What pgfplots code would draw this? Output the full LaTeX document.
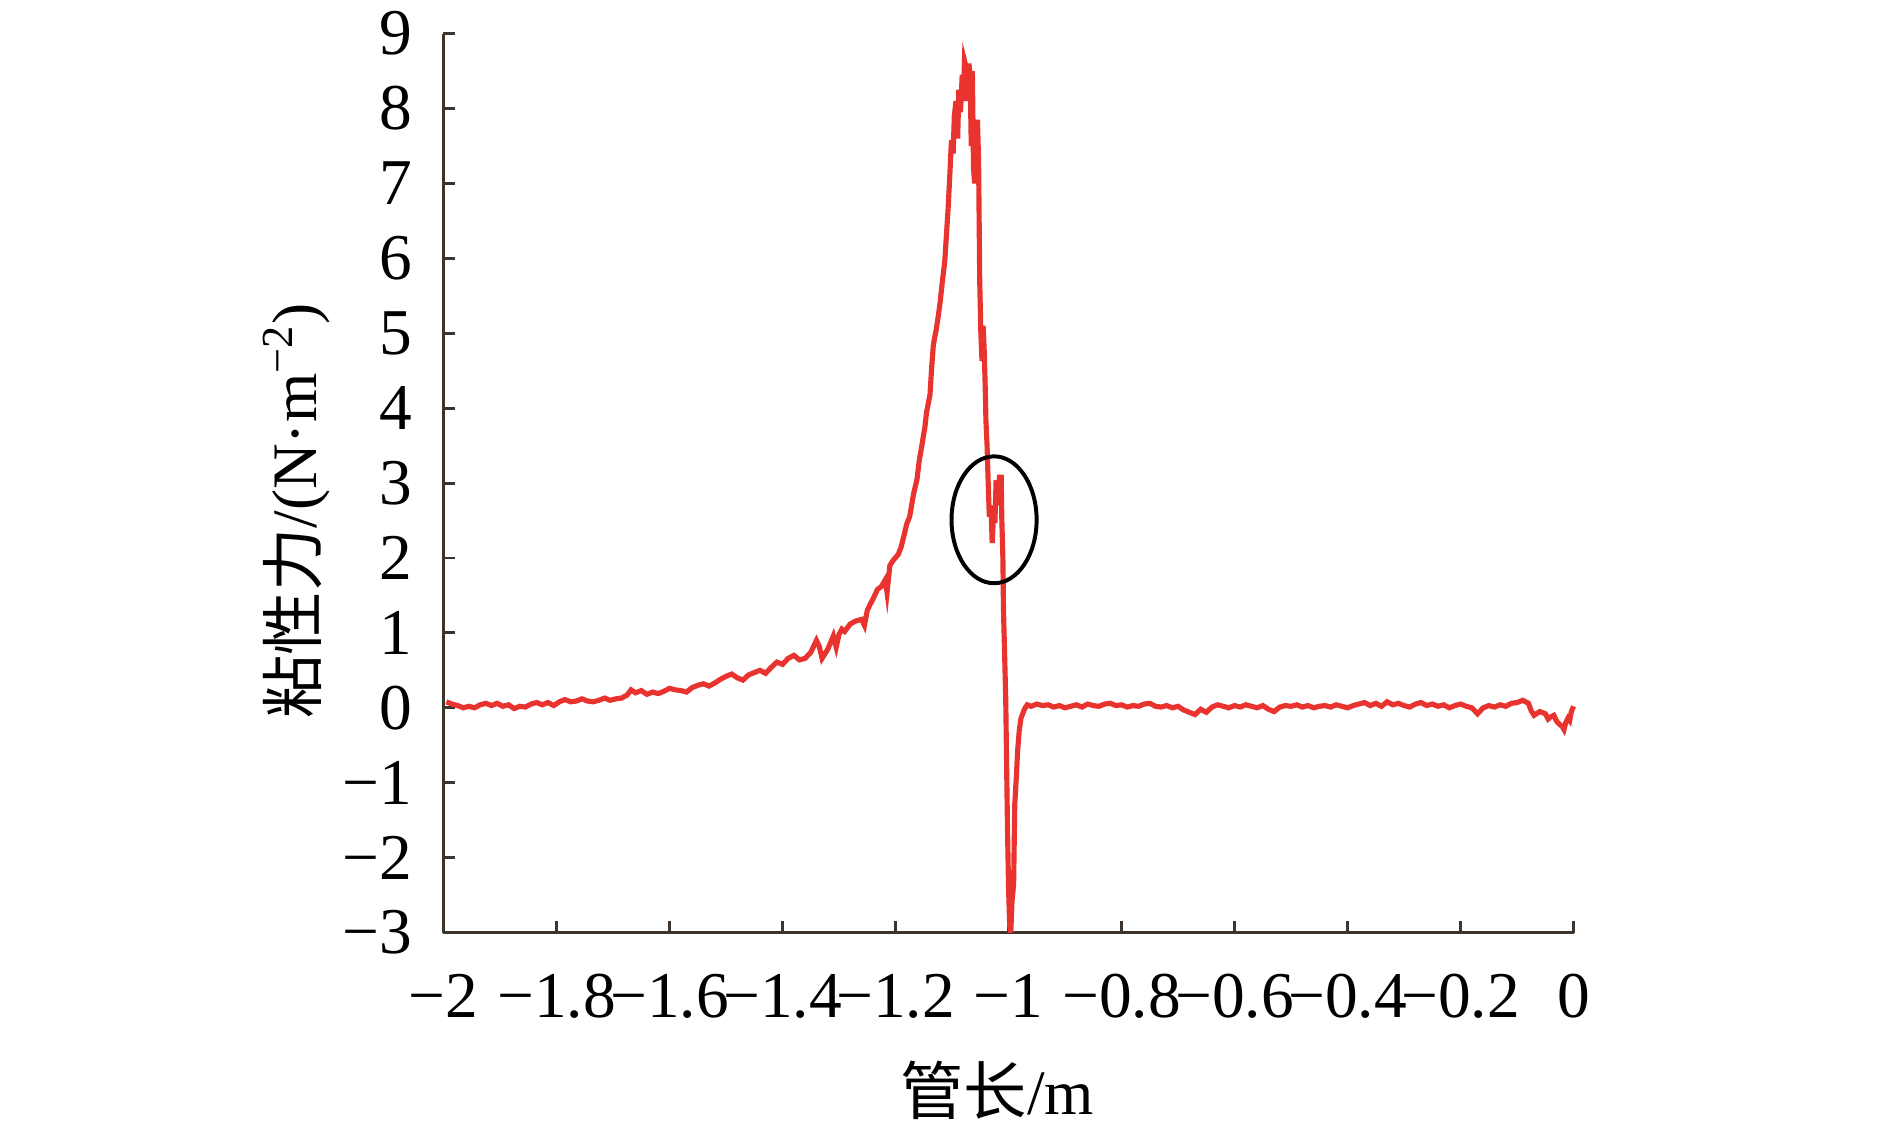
\documentclass[border=0pt]{standalone}
\usepackage{pgfplots}
\pgfplotsset{compat=1.18}
\usepackage{fontspec}
\setmainfont{Liberation Serif}
\newfontfamily\cjk{Noto Sans CJK SC}
\definecolor{axiscol}{RGB}{62,52,46}
\definecolor{curvered}{RGB}{232,51,47}

\begin{document}
\begin{tikzpicture}
\begin{axis}[name=ax, scale only axis, width=285.4pt, height=227pt,
  xmin=-2, xmax=0, ymin=-3, ymax=9,
  axis lines*=left,
  axis line style={draw=axiscol, line width=0.75pt},
  tick style={draw=axiscol, line width=0.75pt},
  tick align=inside, major tick length=3pt,
  xtick={-2,-1.8,-1.6,-1.4,-1.2,-1,-0.8,-0.6,-0.4,-0.2,0},
  xticklabels={−2,−1.8,−1.6,−1.4,−1.2,−1,−0.8,−0.6,−0.4,−0.2,0},
  ytick={-3,-2,-1,0,1,2,3,4,5,6,7,8,9},
  yticklabels={−3,−2,−1,0,1,2,3,4,5,6,7,8,9},
  ticklabel style={font=\fontsize{16.5}{19}\selectfont, text=black},
  xticklabel style={yshift=-7pt},
  yticklabel style={xshift=-4.5pt},
  xlabel={{\cjk 管长}/m},
  ylabel={{\cjk 粘性力}/(N·m\textsuperscript{−2})},
  label style={font=\fontsize{16}{19}\selectfont},
  xlabel style={at={(axis description cs:0.49,-0.176)}, anchor=center},
  ylabel style={at={(axis description cs:-0.13,0.469)}, anchor=center},
  clip=false]
\addplot[curvered, line width=1.3pt] coordinates {
(-1.995,0.08) (-1.985,0.05) (-1.975,0.03) (-1.965,0.0) (-1.955,0.02) (-1.945,0.0)
(-1.935,0.04) (-1.925,0.06) (-1.915,0.03) (-1.905,0.06) (-1.895,0.02) (-1.885,0.04)
(-1.875,-0.01) (-1.865,0.02) (-1.855,0.01) (-1.845,0.05) (-1.835,0.07) (-1.825,0.04)
(-1.815,0.07) (-1.805,0.03) (-1.795,0.08) (-1.785,0.11) (-1.775,0.08) (-1.765,0.09)
(-1.755,0.12) (-1.745,0.09) (-1.735,0.08) (-1.725,0.10) (-1.715,0.13) (-1.705,0.10)
(-1.695,0.12) (-1.685,0.13) (-1.675,0.17) (-1.668,0.24) (-1.66,0.20) (-1.65,0.23)
(-1.64,0.18) (-1.63,0.21) (-1.62,0.19) (-1.61,0.22) (-1.60,0.26) (-1.59,0.24)
(-1.58,0.23) (-1.57,0.21) (-1.56,0.27) (-1.55,0.30) (-1.54,0.32) (-1.53,0.29)
(-1.52,0.33) (-1.51,0.38) (-1.50,0.42) (-1.49,0.45) (-1.48,0.40) (-1.47,0.37)
(-1.46,0.44) (-1.45,0.47) (-1.44,0.50) (-1.43,0.46) (-1.42,0.54) (-1.41,0.61)
(-1.40,0.58) (-1.39,0.66) (-1.38,0.70) (-1.37,0.64) (-1.36,0.66) (-1.35,0.74)
(-1.34,0.90) (-1.335,0.82) (-1.33,0.66) (-1.32,0.78) (-1.31,0.96) (-1.305,0.81)
(-1.30,0.98) (-1.295,1.05) (-1.29,1.02) (-1.28,1.12) (-1.27,1.16) (-1.26,1.18)
(-1.255,1.10) (-1.25,1.30) (-1.245,1.38) (-1.24,1.45) (-1.232,1.58) (-1.225,1.62)
(-1.218,1.71) (-1.215,1.54) (-1.21,1.90) (-1.205,1.96) (-1.195,2.05) (-1.19,2.15)
(-1.185,2.30) (-1.18,2.46) (-1.175,2.55) (-1.168,2.86) (-1.162,3.05) (-1.158,3.30)
(-1.153,3.52) (-1.148,3.75) (-1.145,3.95) (-1.139,4.18) (-1.136,4.55) (-1.133,4.85)
(-1.128,5.05) (-1.124,5.25) (-1.121,5.42) (-1.117,5.70) (-1.113,5.95) (-1.110,6.30)
(-1.107,6.66) (-1.104,7.10) (-1.101,7.58) (-1.098,7.40) (-1.096,7.90) (-1.093,8.10)
(-1.090,7.60) (-1.088,8.25) (-1.085,7.95) (-1.082,8.45) (-1.080,8.10) (-1.078,8.64)
(-1.075,8.55) (-1.072,8.10) (-1.070,8.60) (-1.068,8.45) (-1.066,7.50) (-1.064,8.50)
(-1.062,7.20) (-1.060,7.00) (-1.057,7.60) (-1.055,7.85) (-1.053,7.30) (-1.051,5.69)
(-1.049,5.00) (-1.047,4.63) (-1.045,5.10) (-1.043,4.76) (-1.041,4.20) (-1.040,3.83)
(-1.038,3.50) (-1.036,3.00) (-1.034,2.55) (-1.031,2.70) (-1.029,2.20) (-1.027,2.50)
(-1.024,2.50) (-1.022,3.04) (-1.019,2.70) (-1.016,3.08) (-1.013,3.08) (-1.012,2.55)
(-1.010,2.00) (-1.009,1.32) (-1.005,0.13) (-1.002,-1.55) (-1.000,-2.40) (-0.998,-2.90)
(-0.996,-3.00) (-0.994,-2.60) (-0.991,-2.35) (-0.989,-1.29) (-0.986,-0.90) (-0.984,-0.58)
(-0.981,-0.30) (-0.978,-0.14) (-0.972,-0.02) (-0.967,0.04)
(-0.96,0.02) (-0.95,0.05) (-0.94,0.03) (-0.93,0.04) (-0.92,0.01) (-0.91,0.03)
(-0.90,0.0) (-0.89,0.02) (-0.88,0.04) (-0.87,0.01) (-0.86,0.05) (-0.85,0.03)
(-0.84,0.02) (-0.83,0.05) (-0.82,0.06) (-0.81,0.03) (-0.80,0.04) (-0.79,0.01)
(-0.78,0.03) (-0.77,0.02) (-0.76,0.05) (-0.75,0.06) (-0.74,0.02) (-0.73,0.01)
(-0.72,0.03) (-0.71,0.0) (-0.70,0.02) (-0.69,-0.03) (-0.68,-0.06) (-0.67,-0.09)
(-0.66,-0.02) (-0.65,-0.06) (-0.64,0.01) (-0.63,0.04) (-0.62,0.02) (-0.61,0.0)
(-0.60,0.03) (-0.59,0.01) (-0.58,0.04) (-0.57,0.02) (-0.56,0.0) (-0.55,0.03)
(-0.54,-0.02) (-0.53,-0.05) (-0.52,0.01) (-0.51,0.03) (-0.50,0.02) (-0.49,0.04)
(-0.48,0.01) (-0.47,0.03) (-0.46,0.0) (-0.45,0.02) (-0.44,0.03) (-0.43,0.01)
(-0.42,0.04) (-0.41,0.02) (-0.40,0.0) (-0.39,0.03) (-0.38,0.05) (-0.37,0.07)
(-0.36,0.03) (-0.35,0.06) (-0.34,0.02) (-0.33,0.08) (-0.32,0.04) (-0.31,0.06)
(-0.30,0.03) (-0.29,0.01) (-0.28,0.05) (-0.27,0.07) (-0.26,0.03) (-0.25,0.05)
(-0.24,0.02) (-0.23,0.04) (-0.22,0.0) (-0.21,0.03) (-0.20,0.05) (-0.19,0.02)
(-0.18,0.0) (-0.17,-0.08) (-0.16,0.0) (-0.15,0.03) (-0.14,0.01) (-0.13,0.04)
(-0.12,0.02) (-0.11,0.06) (-0.10,0.07) (-0.09,0.10) (-0.08,0.06) (-0.075,-0.04)
(-0.07,-0.10) (-0.06,-0.05) (-0.05,-0.08) (-0.045,-0.15) (-0.04,-0.12) (-0.035,-0.10)
(-0.03,-0.18) (-0.025,-0.22) (-0.02,-0.25) (-0.017,-0.29) (-0.014,-0.20) (-0.01,-0.14)
(-0.007,-0.17) (-0.004,-0.05) (0.0,0.02)
};
% annotation ring round the notch
\draw[black, line width=1pt] (axis cs:-1.0256,2.51) ellipse [x radius=0.0753, y radius=0.847];
\end{axis}
\pgfresetboundingbox
\path[use as bounding box] ([shift={(-112pt,-48.35pt)}]ax.south west)
  rectangle ([shift={(365.3pt,235.5pt)}]ax.south west);
\end{tikzpicture}
\end{document}
